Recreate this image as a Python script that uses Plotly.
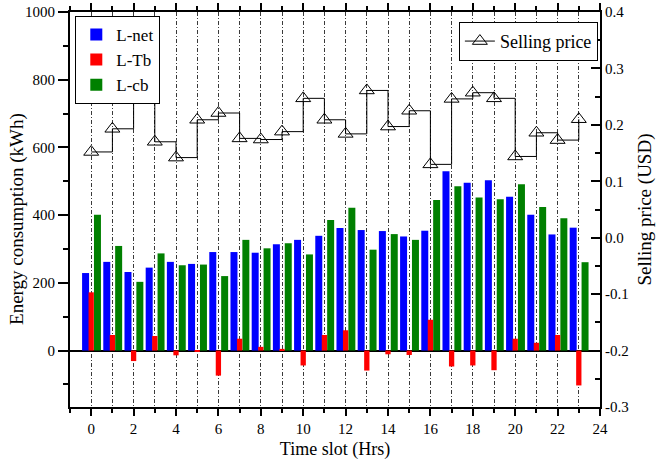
import plotly.graph_objects as go

time_slots = list(range(24))
l_net = [229, 262, 232, 245, 262, 256, 291, 291, 289, 314, 327, 339, 362, 356, 353, 337, 354, 530, 496, 503, 454, 401, 343, 363]
l_tb = [172, 46, -31, 43, -14, -2, -74, 35, 11, 5, -44, 46, 60, -59, -11, -13, 91, -47, -44, -58, 35, 23, 46, -103]
l_cb = [401, 309, 203, 287, 252, 254, 220, 327, 302, 317, 284, 386, 422, 298, 344, 327, 445, 485, 452, 447, 491, 424, 391, 261]
price = [0.152, 0.193, 0.246, 0.170, 0.142, 0.209, 0.221, 0.176, 0.174, 0.188, 0.247, 0.209,
         0.184, 0.261, 0.197, 0.225, 0.130, 0.246, 0.257, 0.247, 0.144, 0.186, 0.173, 0.210]

x_tickvals = list(range(0, 25, 2))
y_tickvals = [0, 200, 400, 600, 800, 1000]
y2_tickvals = [-0.3, -0.2, -0.1, 0.0, 0.1, 0.2, 0.3, 0.4]
y2_ticktext = ["-0.3", "-0.2", "-0.1", "0.0", "0.1", "0.2", "0.3", "0.4"]

FONT = "Liberation Serif"
GRID_DASH = "4px,2px,1px,2px"
GRID_COLOR = "#3a3a3a"

fig = go.Figure()
fig.add_trace(go.Bar(x=time_slots, y=l_net, name="L-net", marker_color="#0000FF",
                     marker_line_width=0, width=0.33, offset=-0.43, legendrank=1, legend="legend"))
fig.add_trace(go.Bar(x=time_slots, y=l_cb, name="L-cb", marker_color="#008000",
                     marker_line_width=0, width=0.33, offset=0.13, legendrank=3, legend="legend"))
fig.add_trace(go.Bar(x=time_slots, y=l_tb, name="L-Tb", marker_color="#FF0000",
                     marker_line_width=0, width=0.25, offset=-0.125, legendrank=2, legend="legend"))
fig.add_trace(go.Scatter(x=time_slots, y=price, name="Selling price", yaxis="y2",
                         mode="lines+markers", line=dict(color="black", width=1, shape="hv"),
                         marker=dict(symbol="triangle-up-open", size=13, color="black",
                                     line=dict(width=1, color="black")),
                         legend="legend2"))

tickfont = dict(family=FONT, size=15, color="black")

fig.update_layout(
    width=667, height=462,
    margin=dict(l=70, r=67, t=12, b=55),
    plot_bgcolor="white", paper_bgcolor="white",
    barmode="overlay",
    font=dict(family=FONT, size=15, color="black"),
    xaxis=dict(
        range=[-1, 24], tickmode="array", tickvals=x_tickvals, automargin=False,
        ticks="outside", ticklen=7, tickwidth=1.5, tickcolor="black",
        showline=True, linecolor="black", linewidth=2, mirror="ticks",
        showgrid=True, gridcolor=GRID_COLOR, gridwidth=1, griddash=GRID_DASH,
        minor=dict(dtick=1, tick0=0, ticks="outside", ticklen=4, tickwidth=1.5, tickcolor="black",
                   showgrid=True, gridcolor=GRID_COLOR, gridwidth=1, griddash=GRID_DASH),
        zeroline=False,
        title=dict(text="Time slot (Hrs)", font=dict(family=FONT, size=18), standoff=6),
        tickfont=tickfont,
    ),
    yaxis=dict(
        range=[-166.67, 1000], tickmode="array", tickvals=y_tickvals, automargin=False,
        ticks="outside", ticklen=10, tickwidth=1.5, tickcolor="black",
        showline=True, linecolor="black", linewidth=2,
        showgrid=False,
        minor=dict(dtick=100, tick0=0, ticks="outside", ticklen=5, tickwidth=1.5, tickcolor="black"),
        zeroline=True, zerolinecolor="black", zerolinewidth=2,
        tickfont=tickfont,
    ),
    yaxis2=dict(
        overlaying="y", side="right", automargin=False,
        range=[-0.3, 0.4], tickmode="array", tickvals=y2_tickvals, ticktext=y2_ticktext,
        ticks="inside", ticklen=9, tickwidth=1.5, tickcolor="black",
        showline=True, linecolor="black", linewidth=2,
        showgrid=False, zeroline=False,
        minor=dict(dtick=0.05, tick0=0, ticks="inside", ticklen=5, tickwidth=1.5, tickcolor="black"),
        title=dict(text="Selling price (USD)", font=dict(family=FONT, size=19), standoff=10),
        tickfont=tickfont,
    ),
    legend=dict(x=0.01, y=0.99, xanchor="left", yanchor="top",
                bordercolor="black", borderwidth=1, bgcolor="white",
                font=dict(family=FONT, size=17), traceorder="normal", tracegroupgap=0),
    legend2=dict(x=0.996, y=0.975, xanchor="right", yanchor="top",
                 bordercolor="black", borderwidth=1, bgcolor="white",
                 font=dict(family=FONT, size=18)),
    annotations=[dict(text="Energy consumption (kWh)", textangle=-90,
                      xref="paper", yref="paper", x=-0.1, y=0.476,
                      xanchor="center", yanchor="middle", showarrow=False,
                      font=dict(family=FONT, size=19, color="black"))],
)

fig.write_html("out.html")
